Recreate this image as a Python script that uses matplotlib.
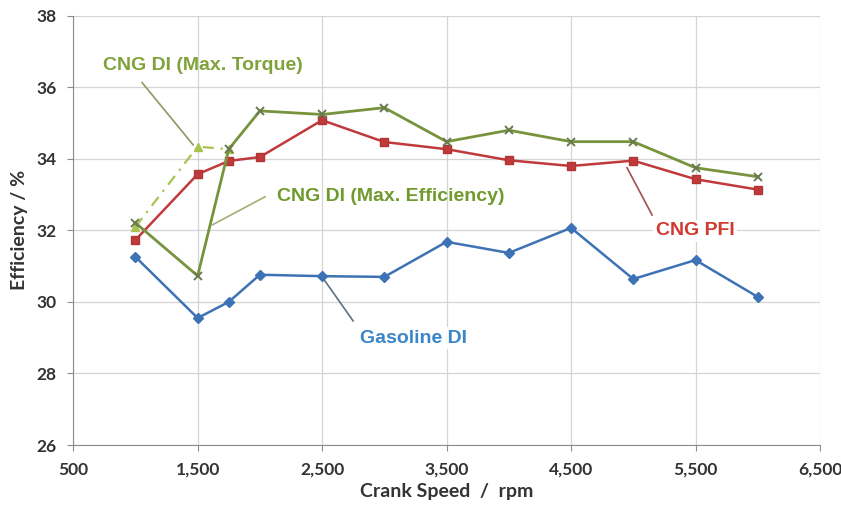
import matplotlib.pyplot as plt

# data
rpm = [1000, 1500, 1750, 2000, 2500, 3000, 3500, 4000, 4500, 5000, 5500, 6000]
gasoline_di = [31.26, 29.55, 30.0, 30.76, 30.72, 30.7, 31.68, 31.37, 32.07, 30.64, 31.17, 30.14]
cng_pfi = [31.73, 33.57, 33.94, 34.05, 35.08, 34.47, 34.27, 33.96, 33.8, 33.95, 33.43, 33.14]
cng_di_eff = [32.21, 30.73, 34.27, 35.34, 35.24, 35.43, 34.48, 34.8, 34.48, 34.48, 33.75, 33.5]
rpm_torque = [1000, 1500, 1750]
cng_di_torque = [32.1, 34.34, 34.27]

x_ticks = [500, 1500, 2500, 3500, 4500, 5500, 6500]
x_tick_labels = ['500', '1,500', '2,500', '3,500', '4,500', '5,500', '6,500']
y_ticks = [26, 28, 30, 32, 34, 36, 38]

blue = '#3d72b4'
red = '#c0393b'
green = '#77933c'
light_green = '#a6c44e'

fig = plt.figure(figsize=(8.41, 5.08), dpi=100)
ax = fig.add_axes([0.087, 0.124, 0.888, 0.845])

ax.plot(rpm_torque, cng_di_torque, color=light_green, linestyle=(0, (5, 3, 1, 3)), lw=1.6,
        marker='^', ms=6, markerfacecolor=light_green, markeredgecolor=light_green, zorder=3)
ax.plot(rpm, gasoline_di, color=blue, lw=1.8, marker='D', ms=5, zorder=4)
ax.plot(rpm, cng_pfi, color=red, lw=1.8, marker='s', ms=6, markeredgecolor='#b03535', zorder=4)
ax.plot(rpm, cng_di_eff, color=green, lw=2, marker='x', ms=6, mew=1.4,
        markeredgecolor='#6a7a50', zorder=5)

ax.set_xlim(500, 6500)
ax.set_ylim(26, 38)
ax.set_xticks(x_ticks)
ax.set_xticklabels(x_tick_labels)
ax.set_yticks(y_ticks)
ax.grid(True, color='#d4d4d4', lw=0.9)
ax.set_axisbelow(True)
for s in ax.spines.values():
    s.set_color('#8c8c8c')
ax.spines['top'].set_visible(False)
ax.spines['right'].set_visible(False)
ax.tick_params(colors='#8c8c8c', length=4, labelcolor='#333333', labelsize=12.5, pad=8)
for lab in ax.get_xticklabels() + ax.get_yticklabels():
    lab.set_fontfamily('Lato')
    lab.set_fontweight('bold')

ax.set_xlabel('Crank Speed  /  rpm', fontsize=14, fontweight='bold', family='Lato',
              color='#333333', labelpad=4)
ax.set_ylabel('Efficiency / %', fontsize=14, fontweight='bold', family='Lato',
              color='#333333', labelpad=6)

ann = dict(fontsize=14, fontweight='bold', family='Liberation Sans', va='center')

# leader lines
ax.plot([1054, 1464], [36.13, 34.39], color='#8a9a60', lw=1.2, zorder=2)
ax.plot([2042, 1616], [32.94, 32.15], color='#a0b070', lw=1.2, zorder=6)
ax.plot([4950, 5151], [33.75, 32.43], color='#a05050', lw=1.2, zorder=2)
ax.plot([2500, 2749], [30.70, 29.47], color='#607080', lw=1.2, zorder=2)

ax.text(1544, 36.6, 'CNG DI (Max. Torque)', ha='center', color='#7fa33a', **ann)
ax.text(2139, 32.94, 'CNG DI (Max. Efficiency)', ha='left', color='#6f9a2c', **ann)
ax.text(5496, 31.99, 'CNG PFI', ha='center', color='#d03a30',
        bbox=dict(fc='white', ec='none', pad=2), **ann)
ax.text(3231, 28.99, 'Gasoline DI', ha='center', color='#3a86c8',
        bbox=dict(fc='white', ec='none', pad=2), **ann)

plt.savefig('out.png', dpi=100)
plt.close()
